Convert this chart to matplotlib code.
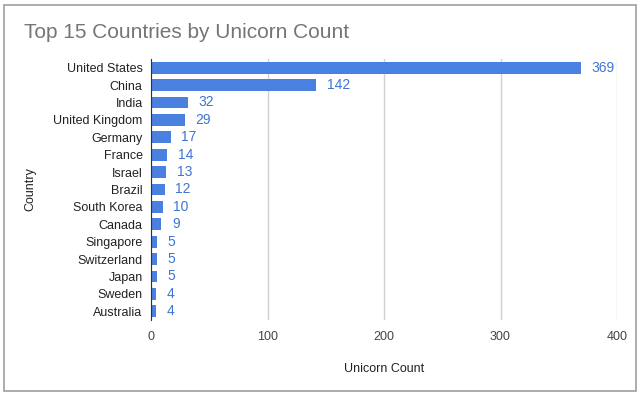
import matplotlib.pyplot as plt
from matplotlib.patches import Rectangle

plt.rcParams['font.family'] = ['Liberation Sans', 'DejaVu Sans']

# Data
countries = ['United States', 'China', 'India', 'United Kingdom', 'Germany',
             'France', 'Israel', 'Brazil', 'South Korea', 'Canada',
             'Singapore', 'Switzerland', 'Japan', 'Sweden', 'Australia']
counts = [369, 142, 32, 29, 17, 14, 13, 12, 10, 9, 5, 5, 5, 4, 4]
xticks = [0, 100, 200, 300, 400]

bar_color = '#4a80e0'
label_color = '#3f74d4'

fig = plt.figure(figsize=(6.4, 3.96), dpi=100)
fig.patches.append(Rectangle((4 / 640, 5 / 396), 632 / 640, 386 / 396,
                             transform=fig.transFigure, fill=False,
                             edgecolor='#9e9e9e', linewidth=1.2))

ax = fig.add_axes([151 / 640, (396 - 320) / 396, (617 - 151) / 640, (320 - 59) / 396])
y = list(range(len(countries)))
ax.barh(y, counts, height=0.68, color=bar_color, zorder=3)
for yi, c in zip(y, counts):
    ax.text(c + 9, yi, str(c), va='center', ha='left', color=label_color, fontsize=10)

ax.set_yticks(y)
ax.set_yticklabels(countries, fontsize=9, color='#222222')
ax.set_ylim(len(countries) - 0.5, -0.5)
ax.set_xlim(0, 400)
ax.set_xticks(xticks)
ax.set_xticklabels([str(t) for t in xticks], fontsize=9, color='#444444')
ax.tick_params(axis='both', length=0, pad=6)
ax.tick_params(axis='x', pad=8)
ax.grid(axis='x', color='#d0d0d0', linewidth=1, zorder=0)
for s in ['top', 'right', 'bottom']:
    ax.spines[s].set_visible(False)
ax.spines['left'].set_color('#333333')
ax.spines['left'].set_zorder(4)

ax.set_xlabel('Unicorn Count', fontsize=9, color='#222222', labelpad=14)
ax.set_ylabel('Country', fontsize=9, color='#222222', labelpad=12)

fig.text(24 / 640, 1 - 32 / 396, 'Top 15 Countries by Unicorn Count',
         fontsize=15, color='#757575', va='center', ha='left')

fig.savefig('out.png', dpi=100)
